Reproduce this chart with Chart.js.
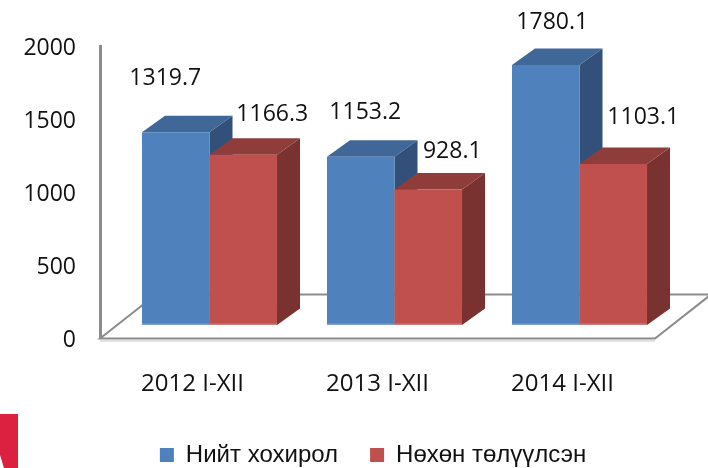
<!DOCTYPE html>
<html>
<head>
<meta charset="utf-8">
<script src="https://cdn.jsdelivr.net/npm/chart.js@4"></script>
<style>html,body{margin:0;padding:0;background:#fff}canvas{display:block}</style>
</head>
<body>
<canvas id="c" width="708" height="468"></canvas>
<script>
const categories = ['2012 I-XII', '2013 I-XII', '2014 I-XII'];
const totalClaims = [1319.7, 1153.2, 1780.1];
const paidClaims = [1166.3, 928.1, 1103.1];
const seriesNames = ['Нийт хохирол', 'Нөхөн төлүүлсэн'];
const yTicks = [0, 500, 1000, 1500, 2000];
// label nudges from the bar's top-centre, per series, as in the source layout
const labelNudgeTotal = [[6.5, -67], [21.5, -58], [23.5, -56.6]];
const labelNudgePaid = [[46, -54], [41, -52], [47, -60]];

const FLOOR_DX = 56, FLOOR_DY = -44;
const SHIFT_X = 17, SHIFT_Y = -13.5;
const BAR_DX = 23, BAR_DY = -16.5;
const palette = [
  {front:'#4F81BD', top:'#3F6797', side:'#325079', edge:'#7E9FCF'},
  {front:'#C0504D', top:'#8F3D3A', side:'#7A3230', edge:'#CF7C79'}
];
const nudges = [labelNudgeTotal, labelNudgePaid];
const TEXT = '#111111';
const NUM_FONT = 'Open Sans';

function poly(ctx, pts, fill){
  ctx.beginPath();
  pts.forEach((p,i)=> i?ctx.lineTo(p[0],p[1]):ctx.moveTo(p[0],p[1]));
  ctx.closePath();
  ctx.fillStyle = fill; ctx.fill();
}

const bars3d = {
  id:'bars3d',
  beforeDraw(chart){
    // nudge the y tick labels down to sit level with the source's
    chart.scales.y.getLabelItems().forEach(item=>{
      if(!item.nudged){ item.options.translation[1] += 2; item.nudged = true; }
    });
  },
  beforeDatasetsDraw(chart){
    const {ctx, chartArea:a} = chart;
    // logo fragment in the corner of the source
    ctx.save();
    poly(ctx, [[0,414],[18,414],[18,468],[4,468],[0,455]], '#DC2140');
    // floor
    ctx.lineWidth = 2;
    ctx.strokeStyle = '#E2E2E2';
    ctx.beginPath();
    ctx.moveTo(a.left, a.bottom+2.5); ctx.lineTo(a.right, a.bottom+2.5);
    ctx.stroke();
    ctx.strokeStyle = '#8C8C8C';
    ctx.beginPath();
    ctx.moveTo(a.right+FLOOR_DX, a.bottom+FLOOR_DY);
    ctx.lineTo(a.left+FLOOR_DX, a.bottom+FLOOR_DY);
    ctx.lineTo(a.left, a.bottom);
    ctx.lineTo(a.right, a.bottom);
    ctx.lineTo(a.right+FLOOR_DX, a.bottom+FLOOR_DY);
    ctx.stroke();
    // bars, in series order so the red one sits in front
    ctx.translate(SHIFT_X, SHIFT_Y);
    chart.data.datasets.forEach((ds,i)=>{
      chart.getDatasetMeta(i).data.forEach(el=>{
        const p = el.getProps(['x','y','base','width'], true);
        const l = p.x-p.width/2, r = p.x+p.width/2;
        const c = palette[i];
        poly(ctx, [[r,p.y],[r+BAR_DX,p.y+BAR_DY],[r+BAR_DX,p.base+BAR_DY],[r,p.base]], c.side);
        poly(ctx, [[l,p.y],[l+BAR_DX,p.y+BAR_DY],[r+BAR_DX,p.y+BAR_DY],[r,p.y]], c.top);
        el.draw(ctx);
        poly(ctx, [[l,p.base-1.5],[r,p.base-1.5],[r,p.base],[l,p.base]], c.edge);
      });
    });
    ctx.restore();
  },
  beforeDatasetDraw(){ return false; },
  afterDatasetsDraw(chart){
    const {ctx} = chart;
    ctx.save();
    ctx.font = '23px "'+NUM_FONT+'"';
    ctx.fillStyle = TEXT;
    ctx.textAlign = 'center';
    ctx.textBaseline = 'middle';
    chart.data.datasets.forEach((ds,i)=>{
      chart.getDatasetMeta(i).data.forEach((el,j)=>{
        const p = el.getProps(['x','y'], true);
        ctx.fillText(ds.data[j].toFixed(1), p.x+nudges[i][j][0], p.y+nudges[i][j][1]);
      });
    });
    ctx.restore();
  },
  afterLayout(chart){
    const lg = chart.legend;
    lg.left += 45.5; lg.right += 45.5;
    lg.top += 9; lg.bottom += 9;
  }
};

new Chart(document.getElementById('c'), {
  type:'bar',
  data:{
    labels:categories,
    datasets:[
      {label:seriesNames[0], data:totalClaims, backgroundColor:palette[0].front},
      {label:seriesNames[1], data:paidClaims, backgroundColor:palette[1].front}
    ]
  },
  options:{
    responsive:false,
    animation:false,
    devicePixelRatio:1,
    layout:{padding:{top:46.5,left:0,right:53,bottom:0}},
    datasets:{bar:{categoryPercentage:0.73,barPercentage:1,borderWidth:0}},
    plugins:{
      tooltip:{enabled:false},
      legend:{
        position:'bottom',
        labels:{
          boxWidth:14,boxHeight:14,padding:32,
          color:TEXT,
          font:{family:'Liberation Sans',size:24}
        }
      }
    },
    scales:{
      x:{
        grid:{display:false},
        border:{display:false},
        afterFit(s){ s.height = 63.5; },
        ticks:{color:TEXT,padding:23.5,font:{family:NUM_FONT,size:24},maxRotation:0}
      },
      y:{
        min:0,max:2000,
        grid:{display:false,drawTicks:false},
        border:{display:true,color:'#8C8C8C',width:3},
        afterFit(s){ s.width = 100; },
        afterBuildTicks(s){ s.ticks = yTicks.map(v=>({value:v})); },
        ticks:{color:TEXT,padding:24,font:{family:NUM_FONT,size:23},callback:v=>String(v)}
      }
    }
  },
  plugins:[bars3d]
});
</script>
</body>
</html>
